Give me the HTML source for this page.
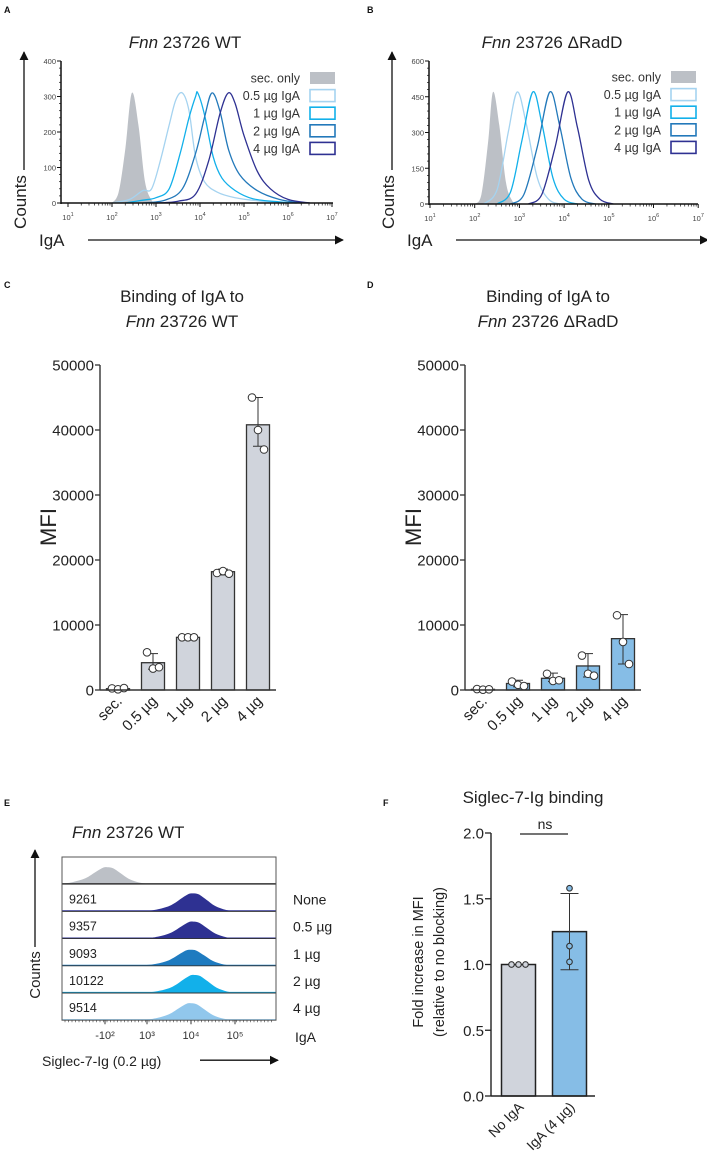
<!DOCTYPE html>
<html><head><meta charset="utf-8">
<style>
body{margin:0;background:#fff;}
svg{display:block;font-family:"Liberation Sans",sans-serif;}
</style></head>
<body>
<svg id="fig" width="707" height="1175" viewBox="0 0 707 1175" xmlns="http://www.w3.org/2000/svg">
<defs>
<marker id="ah" viewBox="0 0 10 10" refX="9" refY="5" markerWidth="7" markerHeight="7" orient="auto-start-reverse"><path d="M0,0 L10,5 L0,10 z" fill="#111"/></marker>
</defs>
<g font-weight="bold" font-size="9" fill="#111">
<text x="4" y="13">A</text>
<text x="367" y="13">B</text>
<text x="4" y="288">C</text>
<text x="367" y="288">D</text>
<text x="4" y="806">E</text>
<text x="383" y="806">F</text>
</g>
<g id="pa"></g><g id="pb"></g><g id="pc"></g><g id="pd"></g><g id="pe"></g><g id="pf"></g>
</svg>
<script>
// ---------- Data ----------
const histLabels = ["sec. only","0.5 µg IgA","1 µg IgA","2 µg IgA","4 µg IgA"];
const histColors = ["#bcc0c6","#a5d3f0","#12b0ea","#2379ba","#2e3192"];
// Panel A curves: [log10 IgA, counts]
const aSec = [[2.0,0],[2.15,30],[2.3,150],[2.45,310],[2.6,220],[2.75,60],[2.9,8],[3.0,0]];
const a05 = [[2.0,0],[2.4,10],[2.7,35],[2.9,40],[3.1,120],[3.3,220],[3.45,290],[3.6,310],[3.75,260],[3.9,130],[4.1,60],[4.4,30],[4.8,15],[5.4,5],[6.0,0]];
const a1 = [[2.3,0],[2.7,8],[3.0,15],[3.3,40],[3.55,140],[3.75,240],[3.9,300],[3.95,310],[4.1,250],[4.3,130],[4.5,70],[4.8,35],[5.2,12],[5.8,3],[6.2,0]];
const a2 = [[2.7,0],[3.2,8],[3.6,40],[3.9,140],[4.1,240],[4.27,310],[4.45,260],[4.65,150],[4.9,80],[5.3,35],[5.8,10],[6.3,0]];
const a4 = [[3.0,0],[3.5,5],[3.9,25],[4.2,120],[4.45,250],[4.64,310],[4.8,280],[5.0,190],[5.3,90],[5.6,40],[6.0,10],[6.5,0]];
const aCurves = [aSec,a05,a1,a2,a4];
// Panel B curves
const bSec = [[2.0,0],[2.15,40],[2.3,260],[2.41,470],[2.55,330],[2.7,90],[2.85,10],[2.95,0]];
const b05 = [[2.2,0],[2.5,60],[2.75,300],[2.95,470],[3.15,340],[3.4,110],[3.65,20],[3.9,0]];
const b1 = [[2.5,0],[2.8,50],[3.05,260],[3.3,470],[3.5,340],[3.75,110],[4.0,20],[4.3,0]];
const b2 = [[2.8,0],[3.1,40],[3.4,240],[3.68,470],[3.9,330],[4.15,110],[4.4,20],[4.7,0]];
const b4 = [[3.2,0],[3.5,40],[3.8,240],[4.08,470],[4.3,320],[4.55,100],[4.8,20],[5.1,0]];
const bCurves = [bSec,b05,b1,b2,b4];
// Panel C / D bars
const barCats = ["sec.","0.5 µg","1 µg","2 µg","4 µg"];
const cMeans = [200,4200,8100,18200,40800];
const cLo = [0,3200,7900,17700,37500];
const cHi = [400,5600,8300,18600,45000];
const cPts = [[250,100,300],[5800,3300,3500],[8100,8100,8100],[18000,18300,17900],[45000,40000,37000]];
const dMeans = [100,1000,1800,3700,7900];
const dLo = [0,500,1300,2000,4000];
const dHi = [300,1500,2600,5600,11600];
const dPts = [[150,50,100],[1300,800,600],[2500,1400,1500],[5300,2500,2200],[11500,7400,4000]];
const cdTicks = [0,10000,20000,30000,40000,50000];
// Panel E
const eRowLabels = ["","None","0.5 µg","1 µg","2 µg","4 µg"];
const eMFI = ["","9261","9357","9093","10122","9514"];
const eColors = ["#bcc0c6","#2e3192","#2e3192","#1e7bc0","#12b0ea","#91c7ec"];
const ePeak = [2.1,4.05,4.05,4.0,4.08,4.0];
const eHeight = [17,18,17,16,18,17];
// shared profile: [log offset from peak, fraction of height]
const eProfile = [[-1.6,0],[-1.1,0.03],[-0.8,0.12],[-0.5,0.35],[-0.25,0.75],[-0.1,0.97],[0,1],[0.12,0.95],[0.3,0.65],[0.5,0.3],[0.75,0.08],[1.0,0.02],[1.3,0]];
const eTicks = ["-10²","10³","10⁴","10⁵"];
const eTickLog = [2.0,3.0,4.0,5.0];
// Panel F
const fCats = ["No IgA","IgA (4 µg)"];
const fMeans = [1.0,1.25];
const fLo = [1.0,0.96];
const fHi = [1.0,1.54];
const fPts = [[1.0,1.0,1.0],[1.58,1.14,1.02]];
const fTicks = [0,0.5,1.0,1.5,2.0];

const NS="http://www.w3.org/2000/svg";
function mk(parent,tag,attrs,txt){const e=document.createElementNS(NS,tag);for(const k in attrs)e.setAttribute(k,attrs[k]);if(txt!==undefined)e.textContent=txt;parent.appendChild(e);return e;}
function smooth(P){let d='M'+P[0][0].toFixed(1)+','+P[0][1].toFixed(1);
  for(let i=0;i<P.length-1;i++){const p0=P[Math.max(0,i-1)],p1=P[i],p2=P[i+1],p3=P[Math.min(P.length-1,i+2)];
    let c1=[p1[0]+(p2[0]-p0[0])/6,p1[1]+(p2[1]-p0[1])/6],c2=[p2[0]-(p3[0]-p1[0])/6,p2[1]-(p3[1]-p1[1])/6];
    d+=` C${c1[0].toFixed(1)},${c1[1].toFixed(1)} ${c2[0].toFixed(1)},${c2[1].toFixed(1)} ${p2[0].toFixed(1)},${p2[1].toFixed(1)}`;}
  return d;}

// ---------- Histogram panels ----------
function histPanel(g,cfg){
  const x0=cfg.x0, yTop=61, yBot=cfg.yBot, xL=cfg.xL, dec=cfg.dec;
  const sx=l=>xL+(l-1)*dec, sy=v=>yBot-(v/cfg.ymax)*(yBot-yTop);
  const t=mk(g,'text',{x:cfg.tx,y:48,'font-size':17,'text-anchor':'middle',fill:'#222'});
  
  
  mk(t,'tspan',{'font-style':'italic'},'Fnn');mk(t,'tspan',{},' 23726 '+cfg.strain);
  cfg.curves.forEach((c,i)=>{
    const d=smooth(c.map(p=>[sx(p[0]),Math.min(yBot,sy(p[1]))]));
    const p=mk(g,'path',{d:d+(i===0?' Z':''),fill:i===0?histColors[0]:'none',stroke:i===0?'none':histColors[i],'stroke-width':1.3,'stroke-linejoin':'round'});
    
    
  });
  mk(g,'line',{x1:x0,y1:yTop,x2:x0,y2:yBot+1,stroke:'#111','stroke-width':1.5});
  mk(g,'line',{x1:x0,y1:yBot,x2:cfg.xR,y2:yBot,stroke:'#111','stroke-width':1.5});
  cfg.yt.forEach((v,i)=>{const y=sy(v);mk(g,'line',{x1:x0-4,y1:y,x2:x0,y2:y,stroke:'#111','stroke-width':1});
    const tl=mk(g,'text',{x:x0-5,y:y+3,'font-size':7.5,'text-anchor':'end',fill:'#444'},v);
    
    if(i<cfg.yt.length-1){for(let k=1;k<5;k++){const yy=sy(v+(cfg.yt[1]-cfg.yt[0])*k/5);mk(g,'line',{x1:x0-2,y1:yy,x2:x0,y2:yy,stroke:'#111','stroke-width':0.7});}}});
  for(let e=1;e<=7;e++){const x=sx(e);mk(g,'line',{x1:x,y1:yBot,x2:x,y2:yBot+4,stroke:'#111','stroke-width':1});
    const tl=mk(g,'text',{x:x,y:yBot+17,'font-size':7.5,'text-anchor':'middle',fill:'#444'});
    
    mk(tl,'tspan',{},'10');mk(tl,'tspan',{dy:-4,'font-size':5.5},e);
    if(e<7)for(let k=2;k<10;k++){const xx=sx(e+Math.log10(k));mk(g,'line',{x1:xx,y1:yBot,x2:xx,y2:yBot+2.5,stroke:'#111','stroke-width':0.7});}}
  histLabels.forEach((lb,i)=>{const y=cfg.ly+i*17.6;
    const tl=mk(g,'text',{x:cfg.lx,y:y+4.5,'font-size':12.5,'text-anchor':'end',fill:'#333'},lb);
    
    const r=mk(g,'rect',{x:cfg.lx+10,y:y-6,width:25,height:12,fill:i===0?histColors[0]:'#fff',stroke:histColors[i],'stroke-width':i===0?0:1.6});
    });
  const cl=mk(g,'text',{x:0,y:0,'font-size':17,'text-anchor':'middle',fill:'#222',transform:`translate(${x0-35},202) rotate(-90)`},'Counts');
  
  mk(g,'line',{x1:x0-37,y1:170,x2:x0-37,y2:52,stroke:'#111','stroke-width':1.3,'marker-end':'url(#ah)'});
  const il=mk(g,'text',{x:x0-22,y:246,'font-size':17,fill:'#222'},'IgA');
  
  mk(g,'line',{x1:x0+27,y1:240,x2:cfg.xR+10,y2:240,stroke:'#111','stroke-width':1.3,'marker-end':'url(#ah)'});
}
histPanel(document.getElementById('pa'),{x0:61,xL:68,xR:333,dec:44,yBot:203,ymax:400,yt:[0,100,200,300,400],curves:aCurves,tx:185,strain:'WT',lx:300,ly:78});
histPanel(document.getElementById('pb'),{x0:429,xL:430,xR:698,dec:44.7,yBot:204,ymax:600,yt:[0,150,300,450,600],curves:bCurves,tx:552,strain:'ΔRadD',lx:661,ly:77});

// ---------- Bar panels C, D ----------
function barPanel(g,cfg){
  const ax=cfg.ax, yTop=365, yBot=690, sy=v=>yBot-v/50000*(yBot-yTop);
  const bx=i=>ax+18+i*35;
  const t1=mk(g,'text',{x:cfg.tx,y:302,'font-size':17,'text-anchor':'middle',fill:'#222'},'Binding of IgA to');
  
  const t2=mk(g,'text',{x:cfg.tx,y:327,'font-size':17,'text-anchor':'middle',fill:'#222'});
  
  mk(t2,'tspan',{'font-style':'italic'},'Fnn');mk(t2,'tspan',{},' 23726 '+cfg.strain);
  cfg.means.forEach((m,i)=>{
    const r=mk(g,'rect',{x:bx(i)-11.5,y:sy(m),width:23,height:yBot-sy(m),fill:cfg.fill,stroke:'#333','stroke-width':1.3});
    
    
    const c=bx(i);
    mk(g,'line',{x1:c,y1:sy(cfg.lo[i]),x2:c,y2:sy(cfg.hi[i]),stroke:'#333','stroke-width':1});
    mk(g,'line',{x1:c-5,y1:sy(cfg.lo[i]),x2:c+5,y2:sy(cfg.lo[i]),stroke:'#333','stroke-width':1});
    mk(g,'line',{x1:c-5,y1:sy(cfg.hi[i]),x2:c+5,y2:sy(cfg.hi[i]),stroke:'#333','stroke-width':1});
    cfg.pts[i].forEach((p,j)=>{const pt=mk(g,'circle',{cx:c+(j-1)*6,cy:sy(p),r:3.8,fill:'#fff',stroke:'#333','stroke-width':1});
      });
    const xl=mk(g,'text',{x:0,y:0,'font-size':15,'text-anchor':'end',fill:'#222',transform:`translate(${c+5},${yBot+12}) rotate(-45)`},barCats[i]);
    
  });
  mk(g,'line',{x1:ax,y1:yTop,x2:ax,y2:yBot,stroke:'#333','stroke-width':1.4});
  mk(g,'line',{x1:ax,y1:yBot,x2:ax+176,y2:yBot,stroke:'#333','stroke-width':1.4});
  cdTicks.forEach(v=>{const y=sy(v);mk(g,'line',{x1:ax-5,y1:y,x2:ax,y2:y,stroke:'#333','stroke-width':1.3});
    const tl=mk(g,'text',{x:ax-6,y:y+5.5,'font-size':15,'text-anchor':'end',fill:'#222'},v);
    });
  const yl=mk(g,'text',{x:0,y:0,'font-size':22,'text-anchor':'middle',fill:'#222',transform:`translate(${ax-44},527) rotate(-90)`},'MFI');
  
}
barPanel(document.getElementById('pc'),{ax:100,tx:182,strain:'WT',fill:'#d0d4dc',means:cMeans,lo:cLo,hi:cHi,pts:cPts});
barPanel(document.getElementById('pd'),{ax:465,tx:548,strain:'ΔRadD',fill:'#86bde6',means:dMeans,lo:dLo,hi:dHi,pts:dPts});

// ---------- Panel E ----------
(function(){
  const g=document.getElementById('pe');
  const L=62,R=276,T=857,rh=27.2, sx=l=>Math.max(L,Math.min(R,191+(l-4)*44));
  const t=mk(g,'text',{x:72,y:838,'font-size':17,fill:'#222'});
  
  mk(t,'tspan',{'font-style':'italic'},'Fnn');mk(t,'tspan',{},' 23726 WT');
  eRowLabels.forEach((lb,i)=>{
    const base=T+rh*(i+1);
    const pts=eProfile.map(p=>[sx(ePeak[i]+p[0]),base-eHeight[i]*p[1]]);
    const d=`M${L},${base} L`+smooth(pts).slice(1)+` L${R},${base} Z`;
    const p=mk(g,'path',{d:d,fill:eColors[i],stroke:'none'});
    
    mk(g,'line',{x1:L,y1:base-0.5,x2:R,y2:base-0.5,stroke:i===0?'#333':eColors[i],'stroke-width':1.2});
    if(eMFI[i]){const m=mk(g,'text',{x:69,y:base-8,'font-size':12.5,fill:'#222'},eMFI[i]);
      }
    if(lb){const r=mk(g,'text',{x:293,y:base-7,'font-size':14,fill:'#222'},lb);
      }
    if(i<5)mk(g,'line',{x1:L,y1:base,x2:R,y2:base,stroke:'#333','stroke-width':0.9});
  });
  const box=mk(g,'rect',{x:L,y:T,width:R-L,height:rh*6,fill:'none',stroke:'#555','stroke-width':1});
  
  const B=T+rh*6;
  for(let k=0;k<60;k++){const x=L+3+k*3.5;if(x<R)mk(g,'line',{x1:x,y1:B,x2:x,y2:B+2,stroke:'#333','stroke-width':0.6});}
  eTicks.forEach((tk,i)=>{const x=191+(eTickLog[i]-4)*44+(i===0?2:0);
    mk(g,'line',{x1:x,y1:B,x2:x,y2:B+4,stroke:'#333','stroke-width':1});
    const tl=mk(g,'text',{x:x,y:B+19,'font-size':11,'text-anchor':'middle',fill:'#333'},tk);
    });
  const ig=mk(g,'text',{x:295,y:B+22,'font-size':14,fill:'#222'},'IgA');
  
  const xl=mk(g,'text',{x:42,y:B+46,'font-size':14,fill:'#222'},'Siglec-7-Ig (0.2 µg)');
  
  mk(g,'line',{x1:200,y1:B+40,x2:278,y2:B+40,stroke:'#111','stroke-width':1.3,'marker-end':'url(#ah)'});
  const cl=mk(g,'text',{x:0,y:0,'font-size':15,'text-anchor':'middle',fill:'#222',transform:`translate(40,975) rotate(-90)`},'Counts');
  
  mk(g,'line',{x1:35,y1:947,x2:35,y2:850,stroke:'#111','stroke-width':1.3,'marker-end':'url(#ah)'});
})();

// ---------- Panel F ----------
(function(){
  const g=document.getElementById('pf');
  const ax=491,yTop=833,yBot=1096,sy=v=>yBot-v/2*(yBot-yTop);
  const bxs=[518.5,569.5];
  const t=mk(g,'text',{x:533,y:803,'font-size':17,'text-anchor':'middle',fill:'#222'},'Siglec-7-Ig binding');
  
  const fills=['#d0d4dc','#86bde6'];
  fMeans.forEach((m,i)=>{const c=bxs[i];
    const r=mk(g,'rect',{x:c-17,y:sy(m),width:34,height:yBot-sy(m),fill:fills[i],stroke:'#222','stroke-width':1.5});
    
    if(fHi[i]!==fLo[i]){mk(g,'line',{x1:c,y1:sy(fLo[i]),x2:c,y2:sy(fHi[i]),stroke:'#333','stroke-width':1});
      mk(g,'line',{x1:c-9,y1:sy(fLo[i]),x2:c+9,y2:sy(fLo[i]),stroke:'#333','stroke-width':1});
      mk(g,'line',{x1:c-9,y1:sy(fHi[i]),x2:c+9,y2:sy(fHi[i]),stroke:'#333','stroke-width':1});}
    fPts[i].forEach((p,j)=>{const cx=i===0?c+(j-1)*7:c;
      const pt=mk(g,'circle',{cx:cx,cy:sy(p),r:2.8,fill:fills[i],stroke:'#333','stroke-width':1.1});
      });
    const xl=mk(g,'text',{x:0,y:0,'font-size':14,'text-anchor':'end',fill:'#222',transform:`translate(${c+6},${yBot+12}) rotate(-45)`},fCats[i]);
    });
  mk(g,'line',{x1:ax,y1:yTop,x2:ax,y2:yBot,stroke:'#222','stroke-width':1.4});
  mk(g,'line',{x1:ax,y1:yBot,x2:595,y2:yBot,stroke:'#222','stroke-width':1.4});
  fTicks.forEach(v=>{const y=sy(v);mk(g,'line',{x1:ax-6,y1:y,x2:ax,y2:y,stroke:'#222','stroke-width':1.3});
    const tl=mk(g,'text',{x:ax-7,y:y+5.5,'font-size':15,'text-anchor':'end',fill:'#222'},v.toFixed(1));
    });
  const y1=mk(g,'text',{x:0,y:0,'font-size':14.5,'text-anchor':'middle',fill:'#222',transform:`translate(423,962) rotate(-90)`},'Fold increase in MFI');
  
  const y2=mk(g,'text',{x:0,y:0,'font-size':14.5,'text-anchor':'middle',fill:'#222',transform:`translate(444,962) rotate(-90)`},'(relative to no blocking)');
  
  mk(g,'line',{x1:520,y1:834,x2:568,y2:834,stroke:'#222','stroke-width':1.3});
  const ns=mk(g,'text',{x:545,y:829,'font-size':14,'text-anchor':'middle',fill:'#222'},'ns');
  
})();
</script>
</body></html>
